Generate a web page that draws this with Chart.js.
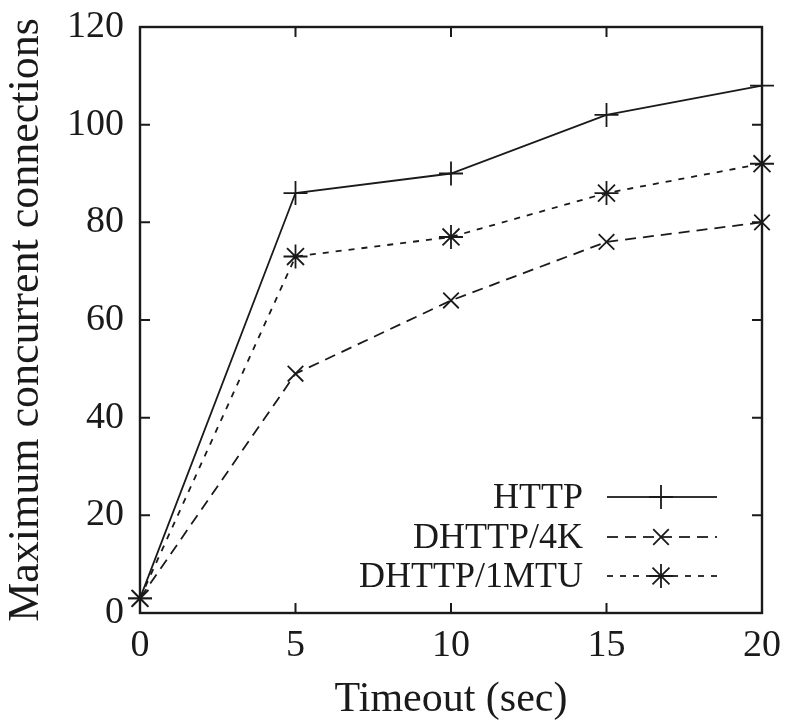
<!DOCTYPE html>
<html>
<head>
<meta charset="utf-8">
<style>
html,body{margin:0;padding:0;background:#fff;}
#wrap{width:787px;height:723px;position:relative;}
</style>
<script src="https://cdn.jsdelivr.net/npm/chart.js@4.4.0/dist/chart.umd.min.js"></script>
</head>
<body>
<div id="wrap"><canvas id="c" width="787" height="723"></canvas></div>
<script>
const timeouts = [0, 5, 10, 15, 20];
const httpValues = [3, 86, 90, 102, 108];
const dhttp4kValues = [3, 49, 64, 76, 80];
const dhttp1mtuValues = [3, 73, 77, 86, 92];
const seriesLabels = ['HTTP', 'DHTTP/4K', 'DHTTP/1MTU'];
const yTicks = [0, 20, 40, 60, 80, 100, 120];
const xTicks = [0, 5, 10, 15, 20];

const FONT = '"Liberation Serif", "Times New Roman", serif';
const INK = '#1a1a1a';

function pts(vals){ return timeouts.map((t,i)=>({x:t,y:vals[i]})); }

const styles = [
  {dash: [], pointStyle: 'cross', radius: 12},
  {dash: [11, 7], pointStyle: 'crossRot', radius: 11},
  {dash: [6, 7], pointStyle: 'star', radius: 12}
];
const seriesValues = [httpValues, dhttp4kValues, dhttp1mtuValues];

const datasets = seriesValues.map((v,i)=>({
  label: seriesLabels[i],
  data: pts(v),
  borderColor: INK,
  backgroundColor: INK,
  borderWidth: 1.8,
  borderDash: styles[i].dash,
  pointStyle: styles[i].pointStyle,
  pointRadius: styles[i].radius,
  pointBorderWidth: 1.8,
  pointBorderColor: INK,
  pointHoverRadius: styles[i].radius,
  tension: 0,
  clip: false
}));

const frameAndTicks = {
  id: 'frameAndTicks',
  afterDraw(chart){
    const ctx = chart.ctx, a = chart.chartArea;
    const xs = chart.scales.x, ys = chart.scales.y;
    ctx.save();
    ctx.strokeStyle = INK;
    ctx.lineWidth = 2.4;
    ctx.setLineDash([]);
    ctx.strokeRect(a.left, a.top, a.right - a.left, a.bottom - a.top);
    ctx.lineWidth = 2;
    const L = 10;
    ctx.beginPath();
    ys.ticks.forEach(t=>{
      const y = ys.getPixelForValue(t.value);
      ctx.moveTo(a.left, y); ctx.lineTo(a.left + L, y);
      ctx.moveTo(a.right, y); ctx.lineTo(a.right - L, y);
    });
    xs.ticks.forEach(t=>{
      const x = xs.getPixelForValue(t.value);
      ctx.moveTo(x, a.bottom); ctx.lineTo(x, a.bottom - L);
      ctx.moveTo(x, a.top); ctx.lineTo(x, a.top + L);
    });
    ctx.stroke();
    ctx.restore();
  }
};

const innerLegend = {
  id: 'innerLegend',
  afterDatasetsDraw(chart){
    const ctx = chart.ctx;
    const textRight = 583, lineL = 607, lineR = 717, mid = 661;
    const rows = [497, 537, 576];
    ctx.save();
    chart.data.datasets.forEach((ds,i)=>{
      const y = rows[i];
      ctx.fillStyle = INK;
      ctx.font = '36px ' + FONT;
      ctx.textAlign = 'right';
      ctx.textBaseline = 'middle';
      ctx.fillText(ds.label, textRight, y + 2);
      ctx.strokeStyle = '#333';
      ctx.lineWidth = 1.8;
      ctx.setLineDash(ds.borderDash);
      ctx.beginPath(); ctx.moveTo(lineL, y); ctx.lineTo(lineR, y); ctx.stroke();
      ctx.setLineDash([]);
      ctx.strokeStyle = INK;
      Chart.helpers.drawPoint(ctx, {pointStyle: ds.pointStyle, radius: ds.pointRadius, borderWidth: 1.8, rotation: 0}, mid, y);
    });
    ctx.restore();
  }
};

new Chart(document.getElementById('c'), {
  type: 'line',
  data: { datasets },
  options: {
    responsive: false,
    animation: false,
    events: [],
    layout: { padding: { top: 27, right: 25, left: 0, bottom: 0 } },
    plugins: { legend: { display: false }, tooltip: { enabled: false } },
    scales: {
      x: {
        type: 'linear', min: 0, max: 20,
        afterBuildTicks(s){ s.ticks = xTicks.map(v=>({value:v})); },
        afterFit(s){ s.height = 110; s.paddingLeft = 0; s.paddingRight = 0; },
        grid: { display: false, drawTicks: false },
        border: { display: false },
        ticks: { color: INK, font: { family: FONT, size: 38 }, padding: 10 },
        title: { display: true, text: 'Timeout (sec)', color: INK, font: { family: FONT, size: 42 }, padding: { top: 0, bottom: -2 } }
      },
      y: {
        type: 'linear', min: 0, max: 120,
        afterBuildTicks(s){ s.ticks = yTicks.map(v=>({value:v})); },
        afterFit(s){ s.width = 140; s.paddingTop = 0; s.paddingBottom = 0; },
        grid: { display: false, drawTicks: false },
        border: { display: false },
        ticks: { color: INK, font: { family: FONT, size: 38 }, padding: 16 },
        title: { display: true, text: 'Maximum concurrent connections', color: INK, font: { family: FONT, size: 44 }, padding: { top: 0, bottom: 0 } }
      }
    }
  },
  plugins: [frameAndTicks, innerLegend]
});
</script>
</body>
</html>
